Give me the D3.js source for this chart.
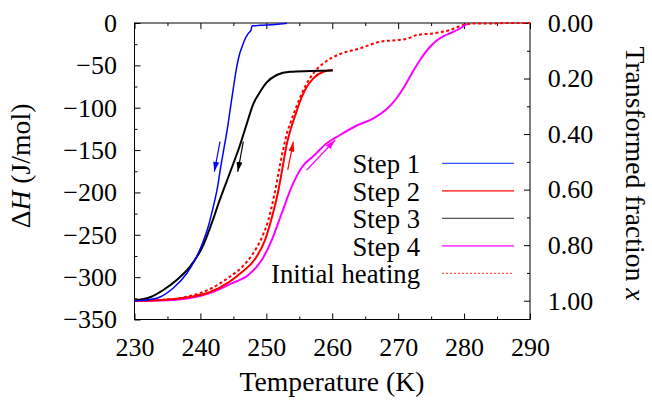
<!DOCTYPE html>
<html>
<head>
<meta charset="utf-8">
<script src="https://cdn.jsdelivr.net/npm/d3@7"></script>
<style>
  html, body { margin: 0; padding: 0; background: #fff; }
  svg { display: block; }
  text { font-family: "Liberation Serif", "Times New Roman", Tinos, serif; fill: #000; }
</style>
</head>
<body>
<svg id="chart" width="652" height="401"></svg>
<script>
// ---------- data ----------
const fullH = -327.8; // ΔH at transformed fraction x = 1

const step1T = [230.00, 231.85, 233.87, 235.89, 237.92, 239.33, 240.39, 241.30, 241.90, 242.52, 243.13, 243.66, 244.11, 244.57, 245.02, 245.51, 245.90, 246.31, 246.77, 247.27, 247.68, 247.83, 249.04, 251.32, 253.14];
const step1H = [-327.8, -327.0, -323.5, -312.8, -295.7, -277.4, -258.5, -237.3, -218.4, -197.1, -167.6, -144.0, -123.9, -99.2, -75.6, -51.9, -37.8, -28.3, -18.9, -12.2, -8.3, -3.5, -2.7, -1.8, -0.4];

const step2T = [230.00, 233.87, 238.42, 241.46, 244.34, 246.31, 248.29, 249.80, 250.86, 251.78, 252.53, 253.14, 253.75, 254.36, 254.96, 255.87, 257.13, 258.65, 260.08];
const step2H = [-328.0, -327.0, -323.5, -317.6, -305.8, -294.0, -278.6, -256.2, -229.0, -199.5, -167.6, -141.7, -124.0, -109.8, -95.6, -79.1, -65.3, -57.5, -55.5];

const step3T = [230.00, 232.35, 234.37, 236.40, 238.42, 240.44, 241.84, 242.82, 244.49, 246.01, 247.07, 248.03, 249.04, 250.06, 251.58, 253.60, 256.63, 260.08];
const step3H = [-327.6, -323.8, -315.2, -303.4, -287.7, -262.1, -233.7, -211.3, -176.5, -144.0, -118.0, -95.6, -81.5, -70.2, -61.4, -57.5, -56.7, -56.1];

const step4T = [230.00, 233.87, 238.42, 241.46, 244.75, 247.27, 249.30, 250.82, 252.34, 253.85, 255.42, 257.24, 259.17, 261.18, 263.72, 266.24, 268.27, 269.68, 270.90, 272.11, 273.32, 274.54, 275.75, 276.96, 278.18, 279.39, 280.41];
const step4H = [-328.0, -327.6, -324.6, -318.7, -307.3, -297.5, -279.8, -256.2, -224.6, -193.2, -170.0, -156.4, -142.0, -132.2, -121.0, -112.5, -101.5, -89.7, -75.6, -59.0, -43.7, -30.7, -21.2, -15.3, -11.2, -6.5, -1.2];

const initT = [230.00, 233.87, 238.42, 241.46, 244.19, 246.31, 247.83, 249.35, 250.26, 251.17, 251.93, 252.53, 253.14, 253.75, 254.36, 254.96, 255.87, 257.13, 258.65, 261.18, 264.22, 267.25, 269.98, 271.20, 272.82, 275.34, 277.87, 279.89, 281.41, 283.95, 286.48, 290.00];
const initH = [-328.0, -327.0, -322.3, -314.0, -301.0, -288.0, -273.9, -252.6, -233.7, -204.2, -173.5, -149.9, -129.9, -115.7, -102.7, -90.9, -75.2, -59.4, -47.6, -36.6, -29.9, -22.1, -20.1, -18.9, -14.2, -12.2, -8.3, -2.4, -0.6, -0.6, 0.0, 0.0];

// arrows: [T0, H0, T1, H1] (tail -> head)
const arrowStep1 = [242.97, -140.1, 242.11, -175.6];
const arrowStep3 = [246.51, -140.1, 245.66, -175.6];
const arrowStep2 = [253.25, -173.5, 254.10, -140.1];
const arrowStep4 = [256.13, -173.5, 260.43, -138.1];

const xTicks = [230, 240, 250, 260, 270, 280, 290];
const xMinor = [235, 245, 255, 265, 275, 285];
const yTicks = [0, -50, -100, -150, -200, -250, -300, -350];
const yMinor = [-25, -75, -125, -175, -225, -275, -325];
const rTicks = [0, 0.2, 0.4, 0.6, 0.8, 1.0];
const rMinor = [0.1, 0.3, 0.5, 0.7, 0.9];

const legendLabels = ["Step 1", "Step 2", "Step 3", "Step 4", "Initial heating"];
const colors = { s1: "#0000ff", s2: "#ff0000", s3: "#000000", s4: "#ff00ff", init: "#ff0000" };

// ---------- scales ----------
const svg = d3.select("#chart");
const L = 134.5, R = 530, T = 23, B = 319.5;
const x = d3.scaleLinear().domain([230, 290]).range([L, R]);
const y = d3.scaleLinear().domain([-350, 0]).range([B, T]);
const yR = d3.scaleLinear().domain([0, 1]).range([y(0), y(fullH)]);

// font size fitting so that rendered widths match the reference
const FONT = '"Liberation Serif", "Times New Roman", Tinos, serif';
function fitSize(str, target) {
  const t = svg.append("text").style("font-size", "100px").style("font-family", FONT).text(str);
  const w = t.node().getComputedTextLength();
  t.remove();
  return 100 * target / w;
}
const FS = fitSize("290", 39);
const FSL = fitSize("Initial heating", 149);
const FST = fitSize("Temperature (K)", 185);

// ---------- axes ----------
function styleAxis(g) {
  g.select(".domain").remove();
  g.attr("font-family", null).attr("font-size", null);
  g.selectAll(".tick line").attr("stroke", "#000").attr("stroke-width", 1);
  g.selectAll("text").style("font-size", FS + "px").style("font-family", FONT);
}

svg.append("g").attr("transform", `translate(0,${B})`)
  .call(d3.axisBottom(x).tickValues(xTicks).tickSize(-6).tickPadding(18).tickFormat(d3.format("d")))
  .call(styleAxis);
svg.append("g").attr("transform", `translate(0,${B})`)
  .call(d3.axisBottom(x).tickValues(xMinor).tickSize(-3).tickFormat(""))
  .call(styleAxis);
svg.append("g").attr("transform", `translate(0,${T})`)
  .call(d3.axisTop(x).tickValues(xTicks).tickSize(-6).tickFormat(""))
  .call(styleAxis);
svg.append("g").attr("transform", `translate(0,${T})`)
  .call(d3.axisTop(x).tickValues(xMinor).tickSize(-3).tickFormat(""))
  .call(styleAxis);

svg.append("g").attr("transform", `translate(${L},0)`)
  .call(d3.axisLeft(y).tickValues(yTicks).tickSize(-6).tickPadding(17.5).tickFormat(d3.format("d")))
  .call(styleAxis);
svg.append("g").attr("transform", `translate(${L},0)`)
  .call(d3.axisLeft(y).tickValues(yMinor).tickSize(-3).tickFormat(""))
  .call(styleAxis);

svg.append("g").attr("transform", `translate(${R},0)`)
  .call(d3.axisRight(yR).tickValues(rTicks).tickSize(-6).tickPadding(17.7).tickFormat(d3.format(".2f")))
  .call(styleAxis);
svg.append("g").attr("transform", `translate(${R},0)`)
  .call(d3.axisRight(yR).tickValues(rMinor).tickSize(-3).tickFormat(""))
  .call(styleAxis);

// frame
svg.append("rect").attr("x", L).attr("y", T).attr("width", R - L).attr("height", B - T)
  .attr("fill", "none").attr("stroke", "#000").attr("stroke-width", 1);

// ---------- curves ----------
const line = d3.line().x(d => x(d[0])).y(d => y(d[1])).curve(d3.curveMonotoneX);
const zip = (a, b) => a.map((v, i) => [v, b[i]]);

const plot = svg.append("g");
plot.append("path").datum(zip(initT, initH)).attr("d", line)
  .attr("fill", "none").attr("stroke", colors.init).attr("stroke-width", 2).attr("stroke-dasharray", "3,2.5");
plot.append("path").datum(zip(step4T, step4H)).attr("d", line)
  .attr("fill", "none").attr("stroke", colors.s4).attr("stroke-width", 2);
plot.append("path").datum(zip(step2T, step2H)).attr("d", line)
  .attr("fill", "none").attr("stroke", colors.s2).attr("stroke-width", 2);
plot.append("path").datum(zip(step3T, step3H)).attr("d", line)
  .attr("fill", "none").attr("stroke", colors.s3).attr("stroke-width", 2);
plot.append("path").datum(zip(step1T, step1H)).attr("d", line)
  .attr("fill", "none").attr("stroke", colors.s1).attr("stroke-width", 1.5);

// ---------- arrows ----------
const defs = svg.append("defs");
function marker(id, color) {
  defs.append("marker").attr("id", id).attr("viewBox", "0 0 10 6")
    .attr("refX", 10).attr("refY", 3).attr("markerWidth", 10).attr("markerHeight", 6)
    .attr("markerUnits", "userSpaceOnUse").attr("orient", "auto")
    .append("path").attr("d", "M0,0 L10,3 L0,6 Z").attr("fill", color);
}
marker("ah1", colors.s1); marker("ah2", colors.s2); marker("ah3", colors.s3); marker("ah4", colors.s4);
[[arrowStep1, colors.s1, "ah1"], [arrowStep3, colors.s3, "ah3"], [arrowStep2, colors.s2, "ah2"], [arrowStep4, colors.s4, "ah4"]]
  .forEach(([a, c, m]) => {
    svg.append("line").attr("x1", x(a[0])).attr("y1", y(a[1])).attr("x2", x(a[2])).attr("y2", y(a[3]))
      .attr("stroke", c).attr("stroke-width", 1.2).attr("marker-end", `url(#${m})`);
  });

// ---------- legend ----------
const legColors = [colors.s1, colors.s2, colors.s3, colors.s4, colors.init];
const leg = svg.append("g");
legendLabels.forEach((lab, i) => {
  const yy = 163.3 + i * 27.5;
  leg.append("text").attr("x", 420).attr("y", yy + 10).attr("text-anchor", "end")
    .style("font-size", FSL + "px").style("font-family", FONT).text(lab);
  const ln = leg.append("line").attr("x1", 442).attr("x2", 514).attr("y1", yy).attr("y2", yy)
    .attr("stroke", legColors[i]).attr("stroke-width", 1.2);
  if (i === 4) ln.attr("stroke-dasharray", "2,2").attr("stroke", "#ff5050");
  if (i === 2) ln.attr("stroke", "#555");
  if (i === 0) ln.attr("stroke", "#3355ff");
});

// ---------- axis titles ----------
const yl = svg.append("text").attr("transform", `translate(30,166) rotate(-90)`)
  .attr("text-anchor", "middle").style("font-size", FST + "px").style("font-family", FONT);
yl.append("tspan").text("Δ");
yl.append("tspan").style("font-style", "italic").text("H");
yl.append("tspan").text(" (J/mol)");

svg.append("text").attr("x", 332).attr("y", 391).attr("text-anchor", "middle")
  .style("font-size", FST + "px").style("font-family", FONT).text("Temperature (K)");

const rl = svg.append("text").attr("transform", `translate(626,173.5) rotate(90)`)
  .attr("text-anchor", "middle").style("font-size", FST + "px").style("font-family", FONT);
rl.append("tspan").text("Transformed fraction ");
rl.append("tspan").style("font-style", "italic").text("x");
</script>
</body>
</html>
